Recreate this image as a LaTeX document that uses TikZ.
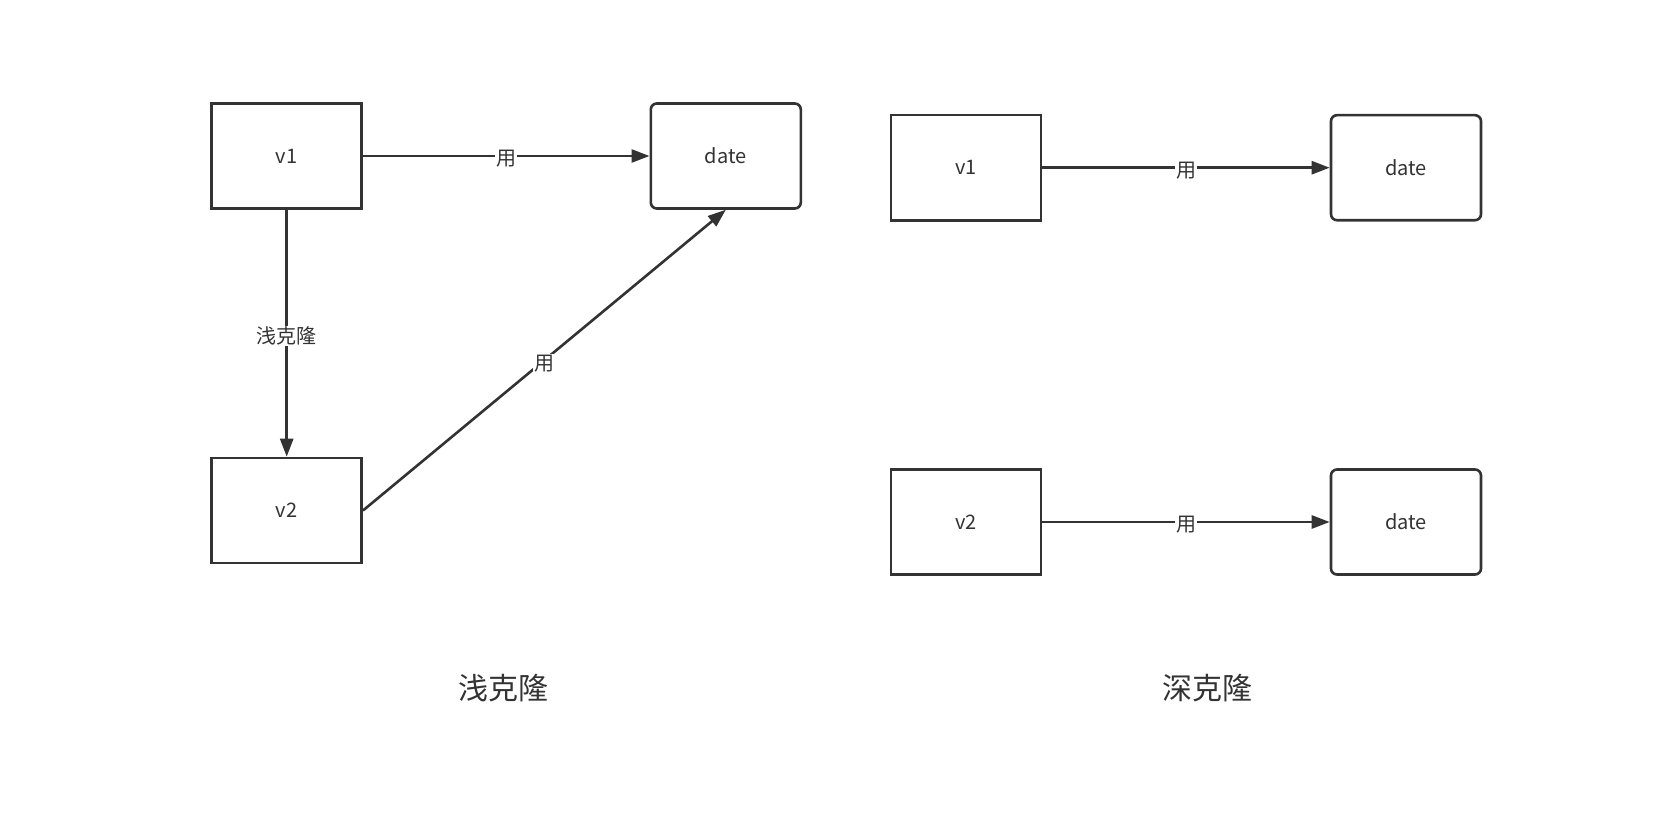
\documentclass[tikz,border=0pt]{standalone}
\usepackage{fontspec}
\setmainfont{Noto Sans CJK SC}
\usetikzlibrary{arrows.meta}
\definecolor{ink}{HTML}{333333}
\tikzset{
  box/.style={draw=ink, line width=2.6pt, minimum width=150pt, minimum height=105pt, inner sep=0pt, text=ink, font=\fontsize{20pt}{24pt}\selectfont},
  rbox/.style={box, rounded corners=6pt},
  conn/.style={draw=ink, line width=2.6pt, -{Triangle[length=18pt,width=13pt]}},
  elabel/.style={fill=white, inner sep=1pt, yshift=-3pt, text=ink, font=\fontsize{20pt}{24pt}\selectfont},
  title/.style={text=ink, font=\fontsize{30pt}{36pt}\selectfont},
}
\begin{document}
\begin{tikzpicture}[x=1pt,y=-1pt]
\useasboundingbox (0,0) rectangle (1659,829);
\fill[white] (0,0) rectangle (1659,829);
% left: shallow clone
\node[box]  (lv1)   at (286.7,156)   {v1};
\node[rbox] (ldate) at (725.8,156)   {date};
\node[box]  (lv2)   at (286.7,510.5) {v2};
\draw[conn] (lv1.east) -- node[elabel] {用} (ldate.west);
\draw[conn] (lv1.south) -- node[elabel] {浅克隆} (lv2.north);
\draw[conn] (lv2.east) -- node[elabel] {用} (ldate.south);
% right: deep clone
\node[box]  (rv1)    at (966,167.7) {v1};
\node[rbox] (rdate1) at (1406,167.7) {date};
\node[box]  (rv2)    at (966,522)   {v2};
\node[rbox] (rdate2) at (1406,522)  {date};
\draw[conn] (rv1.east) -- node[elabel] {用} (rdate1.west);
\draw[conn] (rv2.east) -- node[elabel] {用} (rdate2.west);
% titles
\node[title] (t1) at (503.6,688.5) {浅克隆};
\node[title] (t2) at (1207.2,688.5) {深克隆};
\end{tikzpicture}
\end{document}
